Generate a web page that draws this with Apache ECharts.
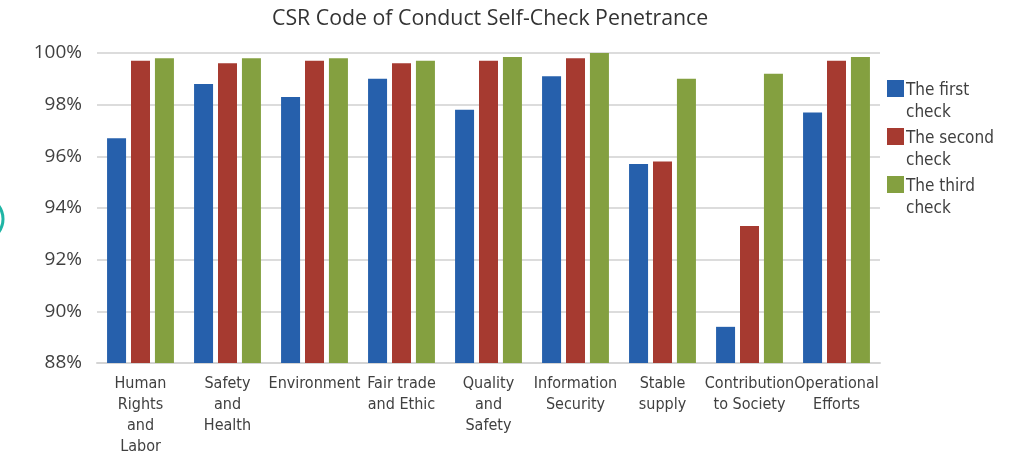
<!DOCTYPE html>
<html><head><meta charset="utf-8">
<script src="https://cdn.jsdelivr.net/npm/echarts@6/dist/echarts.min.js"></script>
<style>html,body{margin:0;padding:0;background:#fff}#c{width:1020px;height:451px}</style>
</head><body><div id="c"></div>
<script>
const categories = ["Human\nRights\nand\nLabor","Safety\nand\nHealth","Environment","Fair trade\nand Ethic","Quality\nand\nSafety","Information\nSecurity","Stable\nsupply","Contribution\nto Society","Operational\nEfforts"];
const seriesNames = ["The first check","The second check","The third check"];
const firstCheck  = [96.7, 98.8, 98.3, 99.0, 97.8, 99.1, 95.7, 89.4, 97.7];
const secondCheck = [99.7, 99.6, 99.7, 99.6, 99.7, 99.8, 95.8, 93.3, 99.7];
const thirdCheck  = [99.8, 99.8, 99.8, 99.7, 99.85, 100.0, 99.0, 99.2, 99.85];
const colors = ["#2660ac","#a63a30","#84a040"];
const condensed = '"DejaVu Sans Condensed","Liberation Sans Narrow",sans-serif';
const chart = echarts.init(document.getElementById('c'));
chart.setOption({
  animation:false,
  title:{text:"CSR Code of Conduct Self-Check Penetrance",left:272,top:8,padding:0,
    textStyle:{fontFamily:'"Open Sans",sans-serif',fontWeight:'normal',fontSize:21.3,color:'#333'}},
  legend:{orient:'vertical',left:887,top:80,padding:0,itemWidth:17,itemHeight:44,itemGap:4,
    icon:'path://M0,0H17V17H0Z M0,44H0.001V44.001H0Z',
    formatter:n=>n.replace(/^(The \w+) /,'$1\n'),
    textStyle:{fontFamily:condensed,fontSize:17,color:'#404040',lineHeight:22,padding:[0,0,0,-3]},
    data:seriesNames},
  graphic:[{type:'circle',shape:{cx:-19,cy:219,r:22},style:{fill:'none',stroke:'#1fb5a5',lineWidth:3}}],
  grid:{left:97,right:140,top:53,bottom:88,outerBoundsMode:'none',containLabel:false},
  xAxis:{type:'category',data:categories,
    axisLine:{lineStyle:{color:'#d4d4d4',width:2}},axisTick:{show:false},
    axisLabel:{interval:0,fontFamily:condensed,fontSize:16,color:'#404040',lineHeight:21,margin:10}},
  yAxis:{type:'value',min:88,max:100,interval:2,
    axisLabel:{formatter:'{value}%',fontFamily:'"Open Sans",sans-serif',fontSize:19,color:'#404040',margin:15},
    axisLine:{show:false},axisTick:{show:false},
    splitLine:{lineStyle:{color:'#dcdcdc',width:2}}},
  series:[firstCheck,secondCheck,thirdCheck].map((d,i)=>({
    name:seriesNames[i],type:'bar',data:d,barWidth:19,barGap:'26%',
    itemStyle:{color:colors[i]}}))
});
</script></body></html>
